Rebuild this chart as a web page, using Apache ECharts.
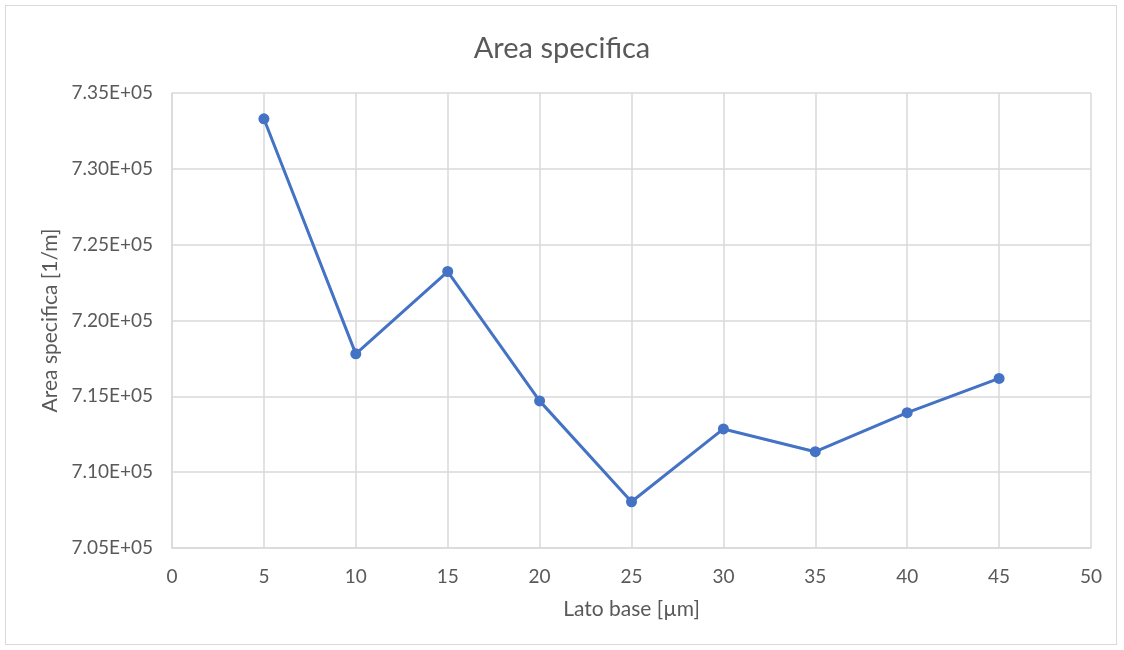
<!DOCTYPE html>
<html>
<head>
<meta charset="utf-8">
<script src="https://cdn.jsdelivr.net/npm/echarts@6/dist/echarts.min.js"></script>
<style>
  html, body { margin: 0; padding: 0; background: #fff; }
  #frame { position: absolute; left: 5px; top: 5px; width: 1112px; height: 640px;
           border: 1px solid #d9d9d9; box-sizing: border-box; }
  #chart { position: absolute; left: 0; top: 0; width: 1124px; height: 650px; }
</style>
</head>
<body>
<div id="frame"></div>
<div id="chart"></div>
<script>
// Specific surface area versus base side length
const latoBase = [5, 10, 15, 20, 25, 30, 35, 40, 45];
const areaSpecifica = [733300, 717800, 723230, 714700, 708050, 712850, 711350, 713920, 716180];

const yMin = 705000, yMax = 735000, yStep = 5000;
const xMin = 0, xMax = 50, xStep = 5;

const FONT = 'Lato, "Open Sans", sans-serif';
const TEXT = '#595959';
const GRID = '#d9d9d9';

const chart = echarts.init(document.getElementById('chart'), null, { renderer: 'canvas' });
chart.setOption({
  animation: false,
  backgroundColor: 'transparent',
  title: {
    text: 'Area specifica',
    left: 'center',
    top: 29,
    textStyle: { fontFamily: FONT, fontSize: 29, fontWeight: 'normal', color: TEXT }
  },
  grid: { left: 172, right: 33, top: 93, bottom: 102, containLabel: false },
  xAxis: {
    type: 'value',
    min: xMin, max: xMax, interval: xStep,
    name: 'Lato base [µm]',
    nameLocation: 'middle',
    nameGap: 51,
    nameTextStyle: { fontFamily: FONT, fontSize: 21, color: TEXT },
    axisLine: { show: true, lineStyle: { color: GRID, width: 1.5 } },
    axisTick: { show: false },
    splitLine: { show: true, lineStyle: { color: GRID, width: 1.5 } },
    axisLabel: { fontFamily: FONT, fontSize: 19, color: TEXT, margin: 19 }
  },
  yAxis: {
    type: 'value',
    min: yMin, max: yMax, interval: yStep,
    name: 'Area specifica [1/m]',
    nameLocation: 'middle',
    nameGap: 109,
    nameRotate: 90,
    nameTextStyle: { fontFamily: FONT, fontSize: 21, color: TEXT },
    axisLine: { show: true, lineStyle: { color: GRID, width: 1.5 } },
    axisTick: { show: false },
    splitLine: { show: true, lineStyle: { color: GRID, width: 1.5 } },
    axisLabel: {
      fontFamily: FONT, fontSize: 19, color: TEXT, margin: 19,
      formatter: v => (v / 1e5).toFixed(2) + 'E+05'
    }
  },
  series: [{
    type: 'line',
    data: latoBase.map((x, i) => [x, areaSpecifica[i]]),
    symbol: 'circle',
    symbolSize: 11,
    lineStyle: { color: '#4472C4', width: 3 },
    itemStyle: { color: '#4472C4' }
  }]
});
</script>
</body>
</html>
